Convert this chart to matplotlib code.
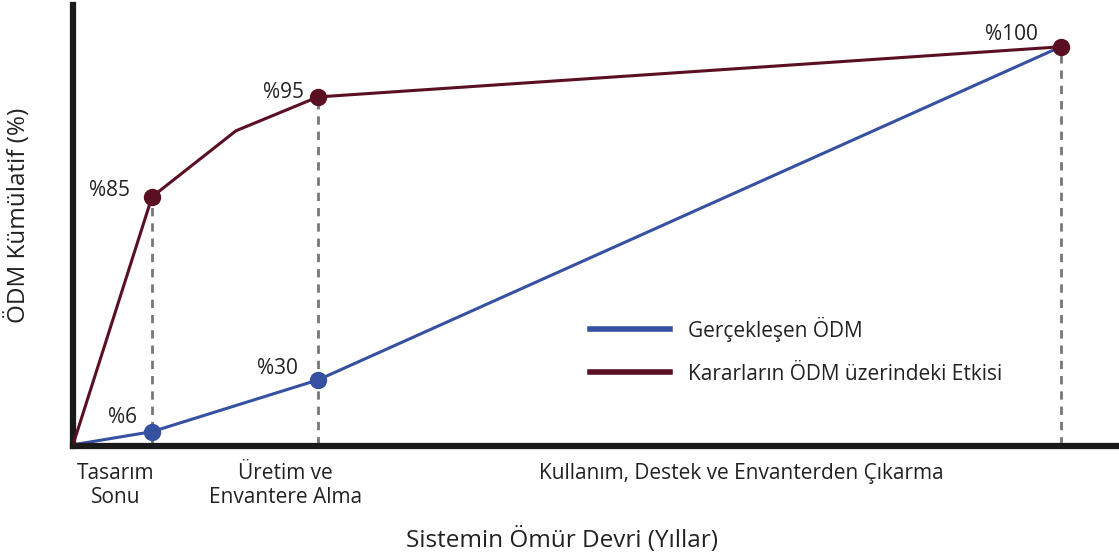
import matplotlib
matplotlib.use("Agg")
import matplotlib.pyplot as plt

plt.rcParams['font.family'] = ['Open Sans', 'DejaVu Sans']

# x: position along the life cycle (0..100), y: drawn height (0..100)
karar_x = [0, 8.0, 16.5, 24.8, 100]
karar_y = [0, 62.3, 78.9, 87.4, 100]
gercek_x = [0, 8.0, 24.8, 100]
gercek_y = [0, 3.3, 16.3, 100]

karar_pts = [1, 3, 4]
karar_labels = ['%85', '%95', '%100']
gercek_pts = [1, 2]
gercek_labels = ['%6', '%30']

phase_pos = [4.35, 21.5, 67.7]
phase_labels = ['Tasarım\nSonu', 'Üretim ve\nEnvantere Alma',
                'Kullanım, Destek ve Envanterden Çıkarma']

red = '#5a0f22'
blue = '#3650a2'
txt = '#222222'
fs = 15

fig = plt.figure(figsize=(11.19, 5.57), dpi=100)
ax = fig.add_axes([73 / 1119, 111 / 557, 1046 / 1119, 441 / 557])
ax.set_xlim(0, 105.9)
ax.set_ylim(-0.3, 110.5)

# dashed drop lines
for i in karar_pts:
    ax.plot([karar_x[i], karar_x[i]], [0, karar_y[i]], ls=(0, (3, 2.5)),
            color='#777777', lw=2, zorder=1)

ax.plot(gercek_x, gercek_y, color=blue, lw=2.2, zorder=2, label='Gerçekleşen ÖDM')
ax.plot(karar_x, karar_y, color=red, lw=2.2, zorder=3,
        label='Kararların ÖDM üzerindeki Etkisi')
ax.plot([gercek_x[i] for i in gercek_pts], [gercek_y[i] for i in gercek_pts],
        'o', color=blue, ms=11.5, zorder=4)
ax.plot([karar_x[i] for i in karar_pts], [karar_y[i] for i in karar_pts],
        'o', color=red, ms=11.5, zorder=4)

# point labels
def lab(s, xy, dx, dy, ha='right'):
    ax.annotate(s, xy, xytext=(dx, dy), textcoords='offset pixels',
                ha=ha, va='center', fontsize=fs, color=txt)

lab(karar_labels[0], (karar_x[1], karar_y[1]), -22, 6)
lab(karar_labels[1], (karar_x[3], karar_y[3]), -14, 4)
lab(karar_labels[2], (karar_x[4], karar_y[4]), -49, 12, ha='center')
lab(gercek_labels[0], (gercek_x[1], gercek_y[1]), -15, 14)
lab(gercek_labels[1], (gercek_x[2], gercek_y[2]), -20, 11)

ax.set_xticks(phase_pos)
ax.set_xticklabels(phase_labels, fontsize=fs, color=txt, linespacing=1.15, va='top')
ax.tick_params(axis='x', length=0, pad=12.5)
ax.set_yticks([])

for s in ['top', 'right']:
    ax.spines[s].set_visible(False)
for s in ['left', 'bottom']:
    ax.spines[s].set_linewidth(4.5)
    ax.spines[s].set_color('#1a1a1a')

ax.set_xlabel('Sistemin Ömür Devri (Yıllar)', fontsize=17.5, color=txt, va='center')
ax.xaxis.set_label_coords((562 - 73) / 1046, -(540 - 446) / 441)
ax.set_ylabel('ÖDM Kümülatif (%)', fontsize=17.5, color=txt, va='center')
ax.yaxis.set_label_coords((18 - 73) / 1046, (446 - 215) / 441)

ax.legend(loc='upper left', bbox_to_anchor=(571 / 1119, 1 - 298 / 557),
          bbox_transform=fig.transFigure, frameon=False, fontsize=fs,
          handlelength=3.85, handletextpad=0.87, labelspacing=1.05)
for line in ax.get_legend().get_lines():
    line.set_linewidth(4)
for t in ax.get_legend().get_texts():
    t.set_color(txt)

fig.savefig('out.png', dpi=100)
